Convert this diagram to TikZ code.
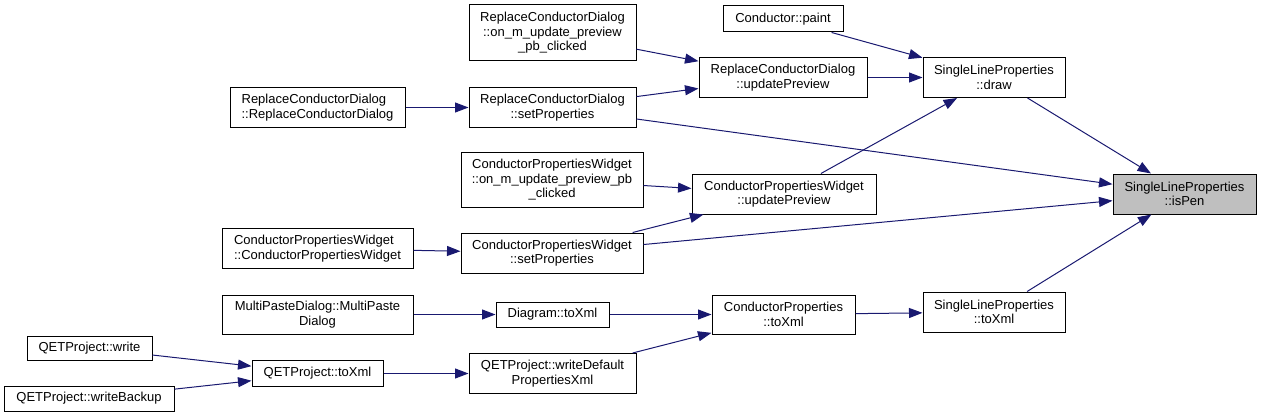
\documentclass[tikz,border=0pt]{standalone}
\usepackage{fontspec}
\setmainfont{Liberation Sans}
\usetikzlibrary{arrows.meta}
\definecolor{edgeblue}{HTML}{191970}
\definecolor{hilite}{HTML}{BFBFBF}
\tikzset{
  fn/.style={draw=black, line width=1pt, fill=white, inner sep=0pt, align=center,
    font=\fontsize{13}{14.5}\selectfont, text=black},
  cur/.style={fn, fill=hilite},
  call/.style={draw=edgeblue, line width=1pt, -{Triangle[length=13.5pt,width=10pt]}, edgeblue}
}
\begin{document}
\begin{tikzpicture}[x=1pt,y=-1pt]
\useasboundingbox (0,0) rectangle (1261,417);
\node[fn, align=left, minimum width=175pt, minimum height=40pt] (rcdctor) at (317.5,107.5) {ReplaceConductorDialog\\::ReplaceConductorDialog};
\node[fn, minimum width=167pt, minimum height=56pt] (rcdon) at (552.5,33) {ReplaceConductorDialog\\::on\_m\_update\_preview\\\_pb\_clicked};
\node[fn, minimum width=120pt, minimum height=26pt] (paint) at (783,19) {Conductor::paint};
\node[fn, minimum width=168pt, minimum height=40pt] (rcdupd) at (783,77.5) {ReplaceConductorDialog\\::updatePreview};
\node[fn, minimum width=167pt, minimum height=40pt] (rcdset) at (552.5,107.5) {ReplaceConductorDialog\\::setProperties};
\node[fn, minimum width=142pt, minimum height=40pt] (draw) at (994,77.5) {SingleLineProperties\\::draw};
\node[fn, align=left, minimum width=191pt, minimum height=40pt] (cpwctor) at (317.5,248.5) {ConductorPropertiesWidget\\::ConductorPropertiesWidget};
\node[fn, minimum width=182pt, minimum height=54pt] (cpwon) at (552,180) {ConductorPropertiesWidget\\::on\_m\_update\_preview\_pb\\\_clicked};
\node[fn, minimum width=184pt, minimum height=40pt] (cpwupd) at (784,194) {ConductorPropertiesWidget\\::updatePreview};
\node[fn, minimum width=182pt, minimum height=40pt] (cpwset) at (552,253) {ConductorPropertiesWidget\\::setProperties};
\node[cur, minimum width=143pt, minimum height=40pt] (ispen) at (1184.5,194) {SingleLineProperties\\::isPen};
\node[fn, minimum width=191pt, minimum height=39pt] (multi) at (317.5,314.5) {MultiPasteDialog::MultiPaste\\Dialog};
\node[fn, minimum width=125pt, minimum height=24pt] (write) at (89.5,348) {QETProject::write};
\node[fn, minimum width=170pt, minimum height=25pt] (backup) at (89,398.5) {QETProject::writeBackup};
\node[fn, minimum width=131pt, minimum height=26pt] (qtoxml) at (317.5,373.5) {QETProject::toXml};
\node[fn, minimum width=113pt, minimum height=25pt] (dtoxml) at (552.5,314.5) {Diagram::toXml};
\node[fn, minimum width=167pt, minimum height=40pt] (wdef) at (552.5,373.5) {QETProject::writeDefault\\PropertiesXml};
\node[fn, minimum width=143pt, minimum height=39pt] (cptoxml) at (783.5,314.5) {ConductorProperties\\::toXml};
\node[fn, minimum width=142pt, minimum height=40pt] (slptoxml) at (994,312) {SingleLineProperties\\::toXml};

\draw[call] (rcdon) -- (rcdupd);
\draw[call] (rcdset) -- (rcdupd);
\draw[call] (rcdctor) -- (rcdset);
\draw[call] (paint) -- (draw);
\draw[call] (rcdupd) -- (draw);
\draw[call] (cpwupd) -- (draw);
\draw[call] (draw) -- (ispen);
\draw[call] (rcdset) -- (ispen);
\draw[call] (cpwset) -- (ispen);
\draw[call] (slptoxml) -- (ispen);
\draw[call] (cpwon) -- (cpwupd);
\draw[call] (cpwset) -- (cpwupd);
\draw[call] (cpwctor) -- (cpwset);
\draw[call] (multi) -- (dtoxml);
\draw[call] (dtoxml) -- (cptoxml);
\draw[call] (wdef) -- (cptoxml);
\draw[call] (qtoxml) -- (wdef);
\draw[call] (write) -- (qtoxml);
\draw[call] (backup) -- (qtoxml);
\draw[call] (cptoxml) -- (slptoxml);
\end{tikzpicture}
\end{document}
